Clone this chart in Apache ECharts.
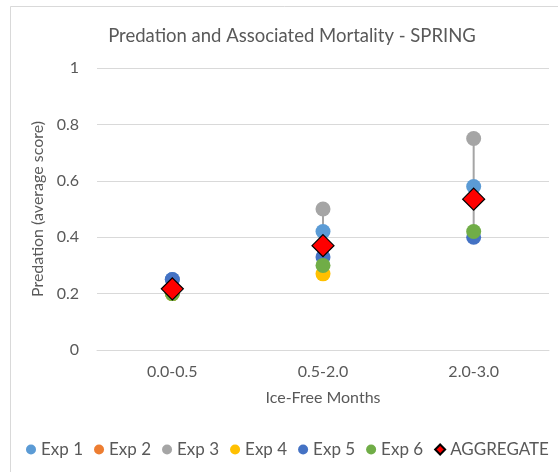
<!DOCTYPE html>
<html>
<head>
<meta charset="utf-8">
<script src="https://cdn.jsdelivr.net/npm/echarts@6/dist/echarts.min.js"></script>
<style>
html,body{margin:0;padding:0;background:#fff;}
#chart{width:558px;height:472px;}
</style>
</head>
<body>
<div id="chart"></div>
<script>
const categories = ['0.0-0.5', '0.5-2.0', '2.0-3.0'];
const exp1 = [0.25, 0.42, 0.58];
const exp2 = [null, null, null];
const exp3 = [0.20, 0.50, 0.75];
const exp4 = [0.20, 0.27, null];
const exp5 = [0.25, 0.33, 0.40];
const exp6 = [0.20, 0.30, 0.42];
const aggregate = [0.217, 0.37, 0.535];
const yTicks = [0, 0.2, 0.4, 0.6, 0.8, 1];

const seriesDefs = [
  { name: 'Exp 1', data: exp1, color: '#5B9BD5' },
  { name: 'Exp 2', data: exp2, color: '#ED7D31' },
  { name: 'Exp 3', data: exp3, color: '#A5A5A5' },
  { name: 'Exp 4', data: exp4, color: '#FFC000' },
  { name: 'Exp 5', data: exp5, color: '#4472C4' },
  { name: 'Exp 6', data: exp6, color: '#70AD47' }
];

const all = [exp1, exp2, exp3, exp4, exp5, exp6, aggregate];
const hiLo = categories.map((c, i) => {
  const vals = all.map(a => a[i]).filter(v => v !== null && v !== undefined);
  return [i, Math.min(...vals), Math.max(...vals)];
});

const font = 'Lato, "Open Sans", sans-serif';
const txt = '#595959';

const chart = echarts.init(document.getElementById('chart'));
const series = [{
  type: 'custom',
  name: 'hilo',
  z: 1,
  silent: true,
  data: hiLo,
  renderItem: function (params, api) {
    const p1 = api.coord([api.value(0), api.value(1)]);
    const p2 = api.coord([api.value(0), api.value(2)]);
    return { type: 'line', shape: { x1: p1[0], y1: p1[1], x2: p2[0], y2: p2[1] },
      style: { stroke: '#A5A5A5', lineWidth: 2 } };
  }
}];
seriesDefs.forEach(s => {
  series.push({
    type: 'scatter', name: s.name, data: s.data, symbol: 'circle', symbolSize: 15, z: 2,
    itemStyle: { color: s.color, opacity: 1 }
  });
});
series.push({
  type: 'scatter', name: 'AGGREGATE', data: aggregate, symbol: 'diamond', symbolSize: [22, 22], z: 3,
  itemStyle: { color: '#FF0000', borderColor: '#000', borderWidth: 1.2, opacity: 1 }
});

chart.setOption({
  animation: false,
  backgroundColor: '#fff',
  graphic: [{ type: 'rect', shape: { x: 10.5, y: 6.5, width: 700, height: 700 },
    style: { fill: 'none', stroke: '#d9d9d9', lineWidth: 1 }, silent: true }],
  title: {
    text: 'Predation and Associated Mortality - SPRING',
    left: 287, top: 22, textAlign: 'center',
    textStyle: { fontFamily: font, fontSize: 18.5, fontWeight: 'normal', color: txt }
  },
  grid: { left: 97, right: 9, top: 68, bottom: 122, containLabel: false },
  legend: {
    left: 26, top: 441, width: 700, padding: 0, itemWidth: 10, itemHeight: 10, itemGap: 11,
    textStyle: { fontFamily: font, fontSize: 17, color: txt },
    data: seriesDefs.map(s => ({ name: s.name, icon: 'circle' })).concat([{ name: 'AGGREGATE', icon: 'diamond' }])
  },
  xAxis: {
    type: 'category', data: categories,
    name: 'Ice-Free Months', nameLocation: 'middle', nameGap: 40,
    nameTextStyle: { fontFamily: font, fontSize: 16, color: txt },
    axisLine: { show: true, lineStyle: { color: '#d9d9d9' } },
    axisTick: { show: false },
    axisLabel: { fontFamily: font, fontSize: 16, color: txt, margin: 14 }
  },
  yAxis: {
    type: 'value', min: 0, max: 1, interval: 0.2,
    name: 'Predation (average score)', nameLocation: 'middle', nameGap: 50,
    nameTextStyle: { fontFamily: font, fontSize: 16, color: txt },
    axisLine: { show: false }, axisTick: { show: false },
    splitLine: { lineStyle: { color: '#d9d9d9', width: 1 } },
    axisLabel: { fontFamily: font, fontSize: 16, color: txt, margin: 18,
      formatter: v => { const t = yTicks.find(x => Math.abs(x - v) < 1e-9); return t === undefined ? '' : String(t); } }
  },
  series: series
});
</script>
</body>
</html>
